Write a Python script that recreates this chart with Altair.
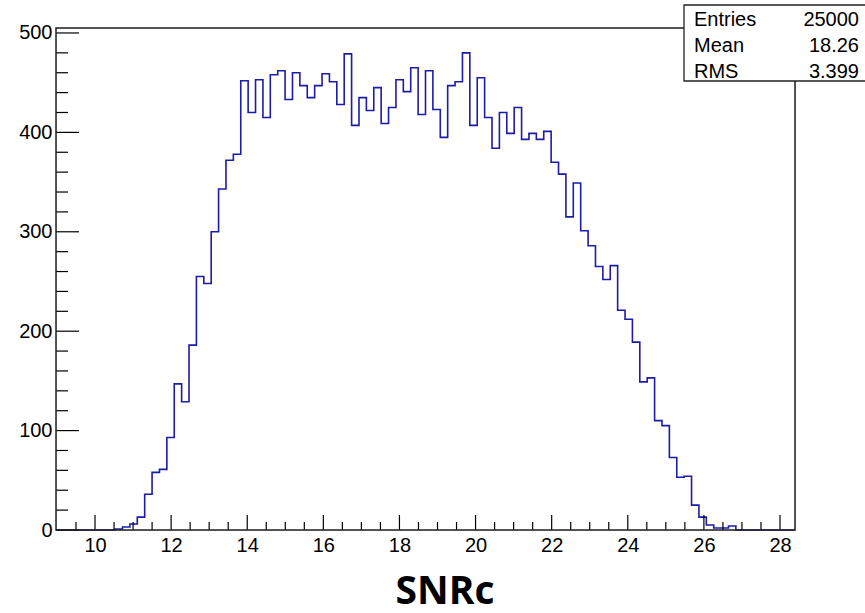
import altair as alt
import pandas as pd

# ---- histogram data (100 bins, counts) ----
x_min, x_max = 8.975, 28.394
n_bins = 100
counts = [0, 0, 0, 0, 0, 0, 0, 0, 1, 3,
          6, 13, 36, 58, 61, 93, 147, 129, 186, 255,
          248, 300, 343, 372, 378, 452, 420, 453, 415, 458,
          462, 433, 460, 447, 435, 447, 459, 451, 428, 479,
          407, 435, 422, 445, 409, 425, 453, 441, 465, 418,
          462, 423, 395, 447, 451, 480, 407, 455, 415, 384,
          420, 399, 425, 393, 399, 393, 401, 370, 358, 315,
          349, 301, 286, 265, 252, 266, 221, 212, 189, 149,
          153, 110, 105, 73, 53, 54, 25, 13, 5, 2,
          2, 4, 0, 0, 0, 0, 0, 0, 0, 0]
y_max = 505

x_major = [10, 12, 14, 16, 18, 20, 22, 24, 26, 28]
x_minor = [9.5, 10.5, 11, 11.5, 12.5, 13, 13.5, 14.5, 15, 15.5, 16.5, 17, 17.5,
           18.5, 19, 19.5, 20.5, 21, 21.5, 22.5, 23, 23.5, 24.5, 25, 25.5,
           26.5, 27, 27.5]
y_major = [0, 100, 200, 300, 400, 500]
y_minor = [20, 40, 60, 80, 120, 140, 160, 180, 220, 240, 260, 280,
           320, 340, 360, 380, 420, 440, 460, 480]

stat_names = ["Entries", "Mean", "RMS"]
stat_values = ["25000", "18.26", "3.399"]
title_text = "SNRc"

W, H = 739, 502
LINE = "#1c1ca6"
FONT = "Liberation Sans"

bw = (x_max - x_min) / n_bins
edges = [x_min + i * bw for i in range(n_bins + 1)]
hist_df = pd.DataFrame({"x": edges, "y": counts + [counts[-1]]})

xs = alt.Scale(domain=[x_min, x_max], zero=False, nice=False)
ys = alt.Scale(domain=[0, y_max], zero=False, nice=False)

xaxis = alt.Axis(values=x_major, format="d", ticks=False, domain=False, grid=False,
                 labelFontSize=20, labelFont=FONT, labelColor="black", labelPadding=5,
                 title=None, labelFlush=False)
yaxis = alt.Axis(values=y_major, format="d", ticks=False, domain=False, grid=False,
                 labelFontSize=20, labelFont=FONT, labelColor="black", labelPadding=4,
                 title=None)

X = alt.X("x:Q", scale=xs, axis=xaxis)
Y = alt.Y("y:Q", scale=ys, axis=yaxis)

hist = alt.Chart(hist_df).mark_line(interpolate="step-after", color=LINE,
                                    strokeWidth=1.6).encode(x=X, y=Y)

def xticks(vals, length):
    return alt.Chart(pd.DataFrame({"x": vals})).mark_rule(
        color="black", strokeWidth=1.2).encode(
        x=X, y=alt.value(H), y2=alt.value(H - length))

def yticks(vals, length):
    return alt.Chart(pd.DataFrame({"y": vals})).mark_rule(
        color="black", strokeWidth=1.2).encode(
        y=Y, x=alt.value(0), x2=alt.value(length))

one = pd.DataFrame({"a": [0]})
frame = alt.Chart(one).mark_rect(fill=None, stroke="#222222", strokeWidth=1.5).encode(
    x=alt.value(0), x2=alt.value(W), y=alt.value(0), y2=alt.value(H))

box = alt.Chart(one).mark_rect(fill="white", stroke="#222222", strokeWidth=1.3).encode(
    x=alt.value(628), x2=alt.value(830), y=alt.value(-23), y2=alt.value(53))

stat_layers = []
for i, (nm, val) in enumerate(zip(stat_names, stat_values)):
    yy = -2 + 26 * i
    stat_layers.append(alt.Chart(one).mark_text(
        text=nm, align="left", baseline="alphabetic", font=FONT, fontSize=20,
        color="black").encode(x=alt.value(638), y=alt.value(yy)))
    stat_layers.append(alt.Chart(one).mark_text(
        text=val, align="right", baseline="alphabetic", font=FONT, fontSize=20,
        color="black").encode(x=alt.value(803), y=alt.value(yy)))

title = alt.Chart(one).mark_text(
    text=title_text, align="center", baseline="bottom", font="Open Sans",
    fontWeight="bold", fontSize=39, color="black").encode(
    x=alt.value(389), y=alt.value(584))

chart = alt.layer(
    hist,
    xticks(x_major, 15), xticks(x_minor, 8),
    yticks(y_major, 23), yticks(y_minor, 12),
    frame, box, *stat_layers, title
).properties(
    width=W, height=H,
    padding={"left": 56, "top": 28, "right": 70, "bottom": 83},
    autosize=alt.AutoSizeParams(type="none"),
).configure_view(stroke=None).configure(background="white")

chart.save("out.html", embed_options={"renderer": "svg", "actions": False})
